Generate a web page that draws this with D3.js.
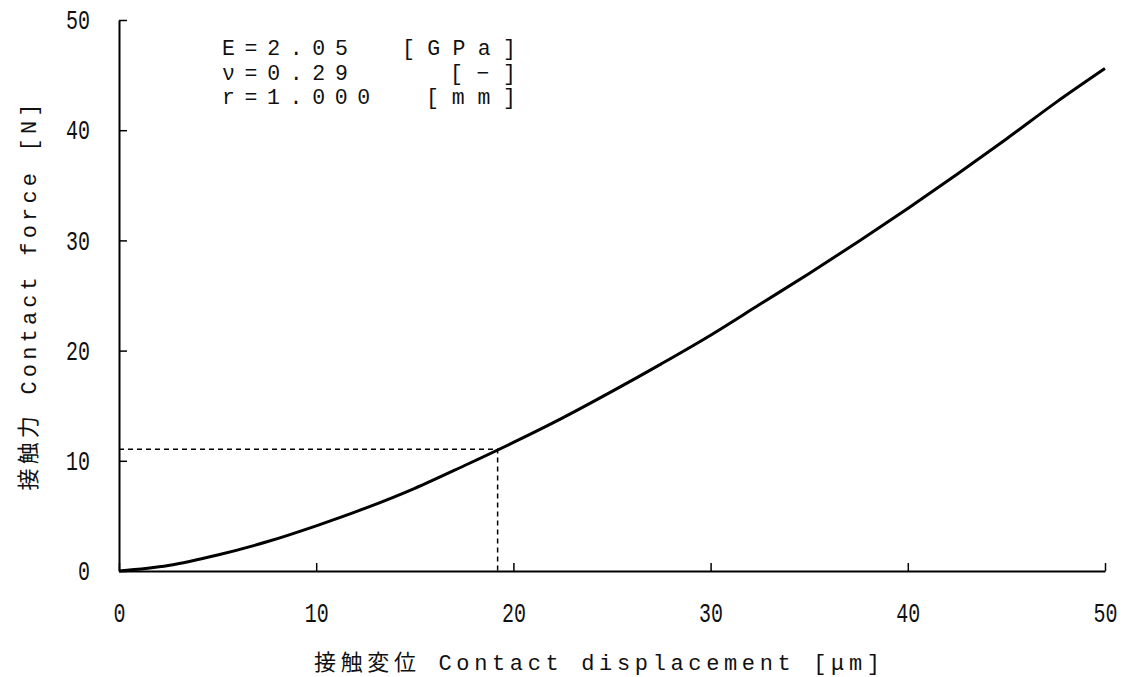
<!DOCTYPE html>
<html>
<head>
<meta charset="utf-8">
<script src="https://cdn.jsdelivr.net/npm/d3@7"></script>
<style>
  body { margin: 0; background: #fff; }
  svg { display: block; }
</style>
</head>
<body>
<svg id="chart"></svg>
<script>
// curve
const displacement = [0, 2.5, 5, 7.5, 10, 12.5, 15, 17.5, 20, 22.5, 25, 27.5, 30, 32.5, 35, 37.5, 40, 42.5, 45, 47.5, 50];
const force = [0, 0.5, 1.45, 2.65, 4.1, 5.7, 7.5, 9.55, 11.67, 13.9, 16.3, 18.8, 21.4, 24.2, 27.0, 29.9, 32.9, 36.0, 39.2, 42.5, 45.6];

const xTicks = [0, 10, 20, 30, 40, 50];
const yTicks = [0, 10, 20, 30, 40, 50];

// dashed reading point
const markX = 19.2;
const markY = 11.05;

const xLabel = "接触変位 Contact displacement  [μm]";
const yLabel = "接触力 Contact force  [N]";

// parameter box
const paramLeft = ["E=2.05", "ν=0.29", "r=1.000"];
const paramUnit = ["[GPa]", "[−]", "[mm]"];

const W = 1132, H = 677;
const svg = d3.select("#chart").attr("width", W).attr("height", H);

const x = d3.scaleLinear().domain([0, 50]).range([119, 1105]);
const y = d3.scaleLinear().domain([0, 50]).range([571, 20]);

const monoFont = "'Liberation Mono', 'DejaVu Sans Mono', monospace";
const jpFont = "'Liberation Mono', 'Noto Sans CJK JP', monospace";

// x axis, ticks pointing inward
const gx = svg.append("g")
  .attr("transform", "translate(0," + y(0) + ")")
  .call(d3.axisBottom(x).tickValues(xTicks).tickSizeInner(-8).tickSizeOuter(0).tickPadding(32));

const gy = svg.append("g")
  .attr("transform", "translate(" + x(0) + ",0)")
  .call(d3.axisLeft(y).tickValues(yTicks).tickSizeInner(-8).tickSizeOuter(0).tickPadding(29));

[gx, gy].forEach(g => {
  g.select(".domain").attr("stroke", "#000").attr("stroke-width", 2);
  g.selectAll(".tick line").attr("stroke", "#000").attr("stroke-width", 1.5);
  g.selectAll(".tick text")
    .attr("font-family", monoFont)
    .attr("font-size", 27)
    .attr("fill", "#111")
    .attr("textLength", function(d) { return String(d).length * 12; })
    .attr("lengthAdjust", "spacingAndGlyphs");
});

// dashed guide lines
svg.append("path")
  .attr("d", d3.line()([[x(0), y(markY)], [x(markX), y(markY)], [x(markX), y(0)]]))
  .attr("fill", "none")
  .attr("stroke", "#000")
  .attr("stroke-width", 1.5)
  .attr("stroke-dasharray", "5,4");

// force curve
const line = d3.line()
  .x((d, i) => x(displacement[i]))
  .y(d => y(d))
  .curve(d3.curveMonotoneX);

svg.append("path")
  .datum(force)
  .attr("d", line)
  .attr("fill", "none")
  .attr("stroke", "#000")
  .attr("stroke-width", 3);

// axis titles
svg.append("text")
  .attr("x", 597)
  .attr("y", 670)
  .attr("text-anchor", "middle")
  .attr("font-family", jpFont)
  .attr("font-size", 22)
  .attr("fill", "#111")
  .attr("textLength", 566)
  .attr("lengthAdjust", "spacing")
  .text(xLabel);

svg.append("text")
  .attr("transform", "translate(36,297) rotate(-90)")
  .attr("text-anchor", "middle")
  .attr("font-family", jpFont)
  .attr("font-size", 22)
  .attr("fill", "#111")
  .attr("textLength", 387)
  .attr("lengthAdjust", "spacing")
  .text(yLabel);

// parameters: value part from the left, unit part flush right
const params = svg.append("g")
  .attr("font-family", monoFont)
  .attr("font-size", 21.5)
  .attr("fill", "#111");

params.selectAll("text.val")
  .data(paramLeft)
  .join("text")
  .attr("class", "val")
  .attr("x", 222)
  .attr("y", (d, i) => 55 + i * 24.5)
  .attr("textLength", d => d.length * 22.3 - 8)
  .attr("lengthAdjust", "spacing")
  .text(d => d);

params.selectAll("text.unit")
  .data(paramUnit)
  .join("text")
  .attr("class", "unit")
  .attr("x", 516)
  .attr("y", (d, i) => 55 + i * 24.5)
  .attr("text-anchor", "end")
  .attr("textLength", d => d.length * 24 - 6)
  .attr("lengthAdjust", "spacing")
  .text(d => d);
</script>
</body>
</html>
